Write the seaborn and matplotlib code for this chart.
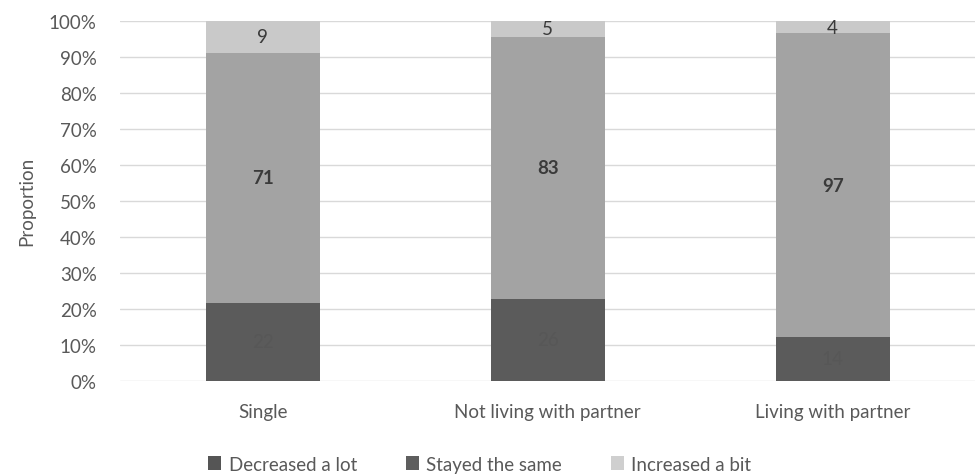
import numpy as np
import pandas as pd
import matplotlib
matplotlib.use("Agg")
import matplotlib.pyplot as plt
import seaborn as sns
from matplotlib.patches import Patch

# Counts per living situation
groups = ["Single", "Not living with partner", "Living with partner"]
decreased_a_lot = [22, 26, 14]
stayed_the_same = [71, 83, 97]
increased_a_bit = [9, 5, 4]
series_names = ["Decreased a lot", "Stayed the same", "Increased a bit"]
y_ticks = [0, 10, 20, 30, 40, 50, 60, 70, 80, 90, 100]

bar_colors = ["#5b5b5b", "#a3a3a3", "#c9c9c9"]
legend_colors = ["#555555", "#5e5e5e", "#cfcfcf"]
label_colors = ["#575757", "#3a3a3a", "#3a3a3a"]
text_color = "#595959"

sns.set_theme(style="white")
plt.rcParams["font.family"] = ["Lato", "DejaVu Sans"]

counts = pd.DataFrame({
    "group": groups,
    series_names[0]: decreased_a_lot,
    series_names[1]: stayed_the_same,
    series_names[2]: increased_a_bit,
})
totals = counts[series_names].sum(axis=1)
shares = counts[series_names].div(totals, axis=0) * 100
shares["group"] = groups

fig = plt.figure(figsize=(9.79, 4.77), dpi=100)
ax = fig.add_axes([0.123, 0.2, 0.873, 0.754])

for v in y_ticks:
    ax.axhline(v, color="#d9d9d9", lw=1.0, zorder=0)

bottom = np.zeros(len(groups))
for name, color, lc in zip(series_names, bar_colors, label_colors):
    sns.barplot(data=shares, x="group", y=name, color=color, width=0.4,
                bottom=bottom, ax=ax, saturation=1, linewidth=0, zorder=2)
    vals = shares[name].to_numpy()
    for i, (v, n) in enumerate(zip(vals, counts[name])):
        ax.text(i, bottom[i] + v / 2, str(n), ha="center", va="center",
                fontsize=13.5, color=lc,
                fontweight="bold" if name == "Stayed the same" else "normal",
                zorder=3)
    bottom = bottom + vals

ax.set_xlim(-0.5, 2.5)
ax.set_ylim(0, 100)
ax.set_yticks(y_ticks)
ax.set_yticklabels([f"{v}%" for v in y_ticks])
ax.tick_params(axis="y", colors=text_color, labelsize=13.5, length=0, pad=17)
ax.tick_params(axis="x", colors=text_color, labelsize=13.5, length=0, pad=16)
ax.set_xlabel("")
ax.set_ylabel("Proportion", color=text_color, fontsize=13.5, labelpad=10)
for s in ax.spines.values():
    s.set_visible(False)

handles = [Patch(facecolor=c, edgecolor="none") for c in legend_colors]
fig.legend(handles, series_names, loc="center", bbox_to_anchor=(0.49, 0.025),
           ncol=3, frameon=False, fontsize=13.5, labelcolor=text_color,
           handlelength=0.7, handleheight=0.7, handletextpad=0.4,
           columnspacing=2.6)

fig.savefig("out.png", dpi=100)
